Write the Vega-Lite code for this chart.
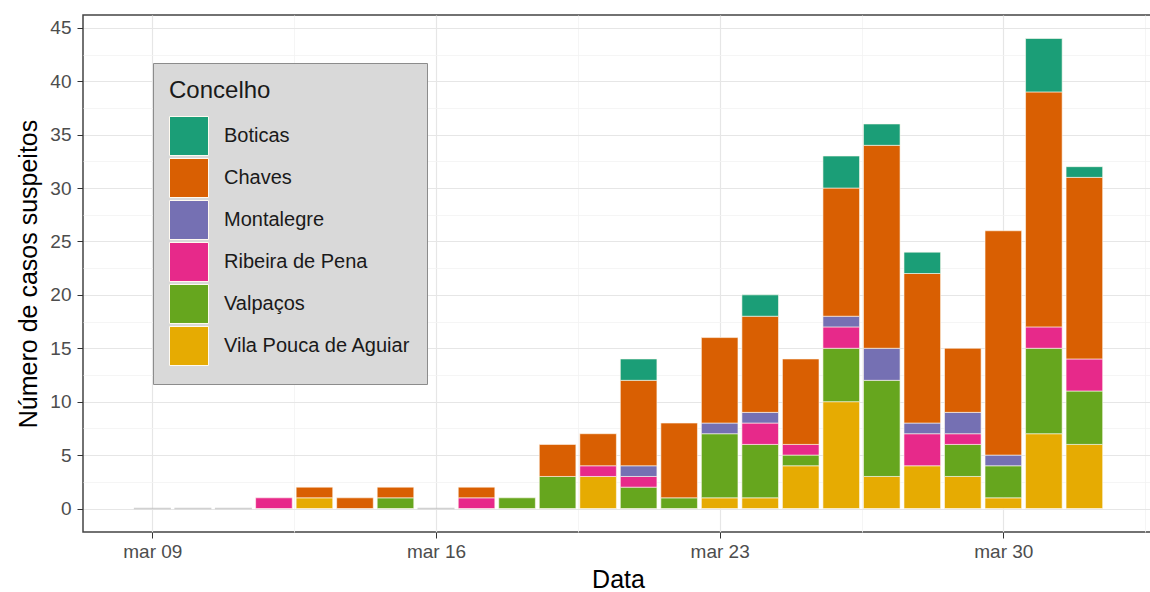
{
  "$schema": "https://vega.github.io/schema/vega-lite/v6.json",
  "width": 1070,
  "height": 517,
  "autosize": {"type": "none"},
  "padding": {"left": 83, "top": 15, "right": 0, "bottom": 60},
  "background": "white",
  "config": {
    "font": "Liberation Sans",
    "view": {"stroke": "#444444", "strokeWidth": 1.5}
  },
  "data": {
    "values": [
      {"date": "2020-03-09", "concelho": null, "casos": 0},
      {"date": "2020-03-10", "concelho": null, "casos": 0},
      {"date": "2020-03-11", "concelho": null, "casos": 0},
      {"date": "2020-03-16", "concelho": null, "casos": 0},
      {"date": "2020-03-12", "concelho": "Ribeira de Pena", "casos": 1},
      {"date": "2020-03-13", "concelho": "Vila Pouca de Aguiar", "casos": 1},
      {"date": "2020-03-13", "concelho": "Chaves", "casos": 1},
      {"date": "2020-03-14", "concelho": "Chaves", "casos": 1},
      {"date": "2020-03-15", "concelho": "Valpaços", "casos": 1},
      {"date": "2020-03-15", "concelho": "Chaves", "casos": 1},
      {"date": "2020-03-17", "concelho": "Ribeira de Pena", "casos": 1},
      {"date": "2020-03-17", "concelho": "Chaves", "casos": 1},
      {"date": "2020-03-18", "concelho": "Valpaços", "casos": 1},
      {"date": "2020-03-19", "concelho": "Valpaços", "casos": 3},
      {"date": "2020-03-19", "concelho": "Chaves", "casos": 3},
      {"date": "2020-03-20", "concelho": "Vila Pouca de Aguiar", "casos": 3},
      {"date": "2020-03-20", "concelho": "Ribeira de Pena", "casos": 1},
      {"date": "2020-03-20", "concelho": "Chaves", "casos": 3},
      {"date": "2020-03-21", "concelho": "Valpaços", "casos": 2},
      {"date": "2020-03-21", "concelho": "Ribeira de Pena", "casos": 1},
      {"date": "2020-03-21", "concelho": "Montalegre", "casos": 1},
      {"date": "2020-03-21", "concelho": "Chaves", "casos": 8},
      {"date": "2020-03-21", "concelho": "Boticas", "casos": 2},
      {"date": "2020-03-22", "concelho": "Valpaços", "casos": 1},
      {"date": "2020-03-22", "concelho": "Chaves", "casos": 7},
      {"date": "2020-03-23", "concelho": "Vila Pouca de Aguiar", "casos": 1},
      {"date": "2020-03-23", "concelho": "Valpaços", "casos": 6},
      {"date": "2020-03-23", "concelho": "Montalegre", "casos": 1},
      {"date": "2020-03-23", "concelho": "Chaves", "casos": 8},
      {"date": "2020-03-24", "concelho": "Vila Pouca de Aguiar", "casos": 1},
      {"date": "2020-03-24", "concelho": "Valpaços", "casos": 5},
      {"date": "2020-03-24", "concelho": "Ribeira de Pena", "casos": 2},
      {"date": "2020-03-24", "concelho": "Montalegre", "casos": 1},
      {"date": "2020-03-24", "concelho": "Chaves", "casos": 9},
      {"date": "2020-03-24", "concelho": "Boticas", "casos": 2},
      {"date": "2020-03-25", "concelho": "Vila Pouca de Aguiar", "casos": 4},
      {"date": "2020-03-25", "concelho": "Valpaços", "casos": 1},
      {"date": "2020-03-25", "concelho": "Ribeira de Pena", "casos": 1},
      {"date": "2020-03-25", "concelho": "Chaves", "casos": 8},
      {"date": "2020-03-26", "concelho": "Vila Pouca de Aguiar", "casos": 10},
      {"date": "2020-03-26", "concelho": "Valpaços", "casos": 5},
      {"date": "2020-03-26", "concelho": "Ribeira de Pena", "casos": 2},
      {"date": "2020-03-26", "concelho": "Montalegre", "casos": 1},
      {"date": "2020-03-26", "concelho": "Chaves", "casos": 12},
      {"date": "2020-03-26", "concelho": "Boticas", "casos": 3},
      {"date": "2020-03-27", "concelho": "Vila Pouca de Aguiar", "casos": 3},
      {"date": "2020-03-27", "concelho": "Valpaços", "casos": 9},
      {"date": "2020-03-27", "concelho": "Montalegre", "casos": 3},
      {"date": "2020-03-27", "concelho": "Chaves", "casos": 19},
      {"date": "2020-03-27", "concelho": "Boticas", "casos": 2},
      {"date": "2020-03-28", "concelho": "Vila Pouca de Aguiar", "casos": 4},
      {"date": "2020-03-28", "concelho": "Ribeira de Pena", "casos": 3},
      {"date": "2020-03-28", "concelho": "Montalegre", "casos": 1},
      {"date": "2020-03-28", "concelho": "Chaves", "casos": 14},
      {"date": "2020-03-28", "concelho": "Boticas", "casos": 2},
      {"date": "2020-03-29", "concelho": "Vila Pouca de Aguiar", "casos": 3},
      {"date": "2020-03-29", "concelho": "Valpaços", "casos": 3},
      {"date": "2020-03-29", "concelho": "Ribeira de Pena", "casos": 1},
      {"date": "2020-03-29", "concelho": "Montalegre", "casos": 2},
      {"date": "2020-03-29", "concelho": "Chaves", "casos": 6},
      {"date": "2020-03-30", "concelho": "Vila Pouca de Aguiar", "casos": 1},
      {"date": "2020-03-30", "concelho": "Valpaços", "casos": 3},
      {"date": "2020-03-30", "concelho": "Montalegre", "casos": 1},
      {"date": "2020-03-30", "concelho": "Chaves", "casos": 21},
      {"date": "2020-03-31", "concelho": "Vila Pouca de Aguiar", "casos": 7},
      {"date": "2020-03-31", "concelho": "Valpaços", "casos": 8},
      {"date": "2020-03-31", "concelho": "Ribeira de Pena", "casos": 2},
      {"date": "2020-03-31", "concelho": "Chaves", "casos": 22},
      {"date": "2020-03-31", "concelho": "Boticas", "casos": 5},
      {"date": "2020-04-01", "concelho": "Vila Pouca de Aguiar", "casos": 6},
      {"date": "2020-04-01", "concelho": "Valpaços", "casos": 5},
      {"date": "2020-04-01", "concelho": "Ribeira de Pena", "casos": 3},
      {"date": "2020-04-01", "concelho": "Chaves", "casos": 17},
      {"date": "2020-04-01", "concelho": "Boticas", "casos": 1}
    ]
  },
  "encoding": {
    "x": {
      "field": "date",
      "type": "temporal",
      "scale": {
        "type": "utc",
        "domain": [
          {"year": 2020, "month": 3, "date": 7, "hours": 9, "minutes": 53, "utc": true},
          {"year": 2020, "month": 4, "date": 2, "hours": 13, "minutes": 41, "utc": true}
        ]
      },
      "axis": {
        "title": "Data",
        "titleFontSize": 25,
        "titleFontWeight": "normal",
        "titleColor": "#000000",
        "titlePadding": 6,
        "values": [
          {"year": 2020, "month": 3, "date": 9, "utc": true},
          {"year": 2020, "month": 3, "date": 12, "hours": 12, "utc": true},
          {"year": 2020, "month": 3, "date": 16, "utc": true},
          {"year": 2020, "month": 3, "date": 19, "hours": 12, "utc": true},
          {"year": 2020, "month": 3, "date": 23, "utc": true},
          {"year": 2020, "month": 3, "date": 26, "hours": 12, "utc": true},
          {"year": 2020, "month": 3, "date": 30, "utc": true},
          {"year": 2020, "month": 4, "date": 2, "hours": 12, "utc": true}
        ],
        "labelExpr": "utchours(datum.value) === 0 ? lower(utcFormat(datum.value, '%b %d')) : ''",
        "labelFontSize": 19,
        "labelColor": "#4d4d4d",
        "labelPadding": 4,
        "labelFlush": false,
        "labelOverlap": false,
        "domain": false,
        "tickSize": 6,
        "tickColor": "#333333",
        "tickOpacity": {"condition": {"test": "utchours(datum.value) === 0", "value": 1}, "value": 0},
        "gridColor": {"condition": {"test": "utchours(datum.value) === 0", "value": "#e6e6e6"}, "value": "#f2f2f2"},
        "gridWidth": {"condition": {"test": "utchours(datum.value) === 0", "value": 1.2}, "value": 0.8}
      }
    },
    "y": {
      "field": "casos",
      "type": "quantitative",
      "scale": {"domain": [-2.2, 46.2], "nice": false, "zero": false},
      "axis": {
        "title": "Número de casos suspeitos",
        "titleFontSize": 25,
        "titleFontWeight": "normal",
        "titleColor": "#000000",
        "titlePadding": 8,
        "values": [0, 2.5, 5, 7.5, 10, 12.5, 15, 17.5, 20, 22.5, 25, 27.5, 30, 32.5, 35, 37.5, 40, 42.5, 45],
        "labelExpr": "datum.value % 5 === 0 ? datum.label : ''",
        "labelFontSize": 19,
        "labelColor": "#4d4d4d",
        "labelPadding": 6,
        "domain": false,
        "tickSize": 6,
        "tickColor": "#333333",
        "tickOpacity": {"condition": {"test": "datum.value % 5 === 0", "value": 1}, "value": 0},
        "gridColor": {"condition": {"test": "datum.value % 5 === 0", "value": "#e6e6e6"}, "value": "#f2f2f2"},
        "gridWidth": {"condition": {"test": "datum.value % 5 === 0", "value": 1.2}, "value": 0.8}
      }
    }
  },
  "layer": [
    {
      "transform": [{"filter": "datum.casos === 0"}],
      "mark": {"type": "tick", "orient": "horizontal", "size": 37, "thickness": 1.5, "color": "#bdbdbd"}
    },
    {
      "transform": [{"filter": "datum.casos > 0"}],
      "mark": {"type": "bar", "width": 36.6, "stroke": "#fffaf0", "strokeWidth": 0.6},
      "encoding": {
        "color": {
          "field": "concelho",
          "type": "nominal",
          "scale": {
            "domain": ["Boticas", "Chaves", "Montalegre", "Ribeira de Pena", "Valpaços", "Vila Pouca de Aguiar"],
            "range": ["#1b9e77", "#d95f02", "#7570b3", "#e7298a", "#66a61e", "#e6ab02"]
          },
          "legend": {
            "title": "Concelho",
            "orient": "none",
            "legendX": 70,
            "legendY": 48,
            "fillColor": "#d9d9d9",
            "strokeColor": "#8c8c8c",
            "padding": 16,
            "titleFontSize": 24,
            "titleFontWeight": "normal",
            "titleColor": "#1a1a1a",
            "titlePadding": 13,
            "labelFontSize": 20,
            "labelColor": "#1a1a1a",
            "labelOffset": 15,
            "labelLimit": 400,
            "symbolType": "square",
            "symbolSize": 1520,
            "symbolStrokeColor": "#fffaf0",
            "symbolStrokeWidth": 1,
            "symbolOpacity": 1,
            "rowPadding": -2.5
          }
        },
        "order": {"field": "concelho", "sort": "descending"}
      }
    }
  ]
}
